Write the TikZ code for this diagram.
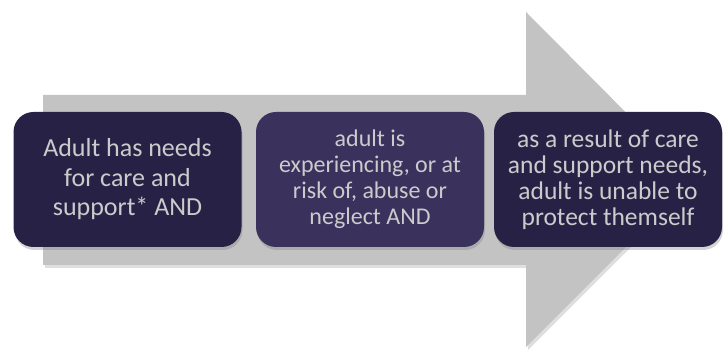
\documentclass[tikz,border=0pt]{standalone}
\usepackage{fontspec}
\setmainfont{Carlito}
\usetikzlibrary{shadows}
\definecolor{gris}{HTML}{C3C3C3}
\definecolor{fonce}{HTML}{272245}
\definecolor{moyen}{HTML}{3A315D}
\definecolor{texte}{HTML}{CBCBCB}
\tikzset{boite/.style={rounded corners=20pt, minimum width=228pt, minimum height=135pt,
		align=center, text=texte,
		drop shadow={shadow xshift=1pt, shadow yshift=-3pt, opacity=0.35}}}

\begin{document}
\begin{tikzpicture}[x=1pt,y=-1pt]
			          %fleche grise derriere les boites
			          \useasboundingbox (0,0) rectangle (723,352);
			          \coordinate (P) at (43,95);
			          \coordinate (Q) at (526,95);
			          \coordinate (R) at (526,12);
			          \coordinate (T) at (693,180);
			          \coordinate (U) at (526,347);
			          \coordinate (V) at (526,265);
			          \coordinate (W) at (43,265);
			          \fill[gris, drop shadow={shadow xshift=2pt, shadow yshift=-3pt, opacity=0.25}]
					(P) -- (Q) -- (R) -- (T) -- (U) -- (V) -- (W) --cycle;
			          %les trois conditions
			          \node[boite, fill=fonce, font=\fontsize{26}{29.5}\selectfont] (A) at (127.5,179.5) {Adult has needs\\for care and\\support* AND};
			          \node[boite, fill=moyen, font=\fontsize{24}{26}\selectfont] (B) at (370,179.5) {adult is\\experiencing, or at\\risk of, abuse or\\neglect AND};
			          \node[boite, fill=fonce, font=\fontsize{25.5}{26}\selectfont] (C) at (608,179.5) {as a result of care\\and support needs,\\adult is unable to\\protect themself};
				  \end{tikzpicture}
\end{document}
